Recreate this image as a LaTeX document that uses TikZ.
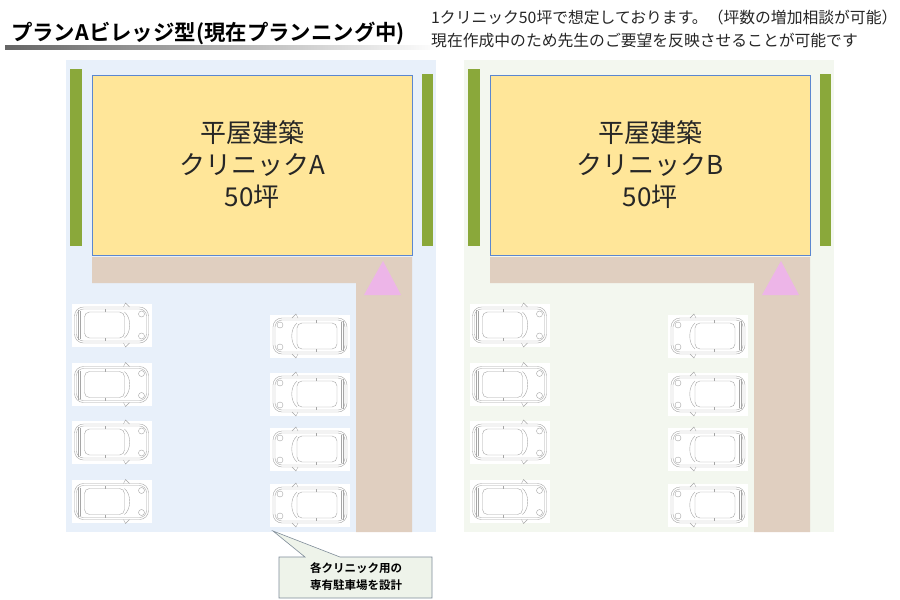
\documentclass[tikz,border=0pt]{standalone}
\usepackage{fontspec}
\newfontfamily\jpfont{Noto Sans CJK JP}[BoldFont={Noto Sans CJK JP Bold}]
\usepackage{tikz}
\usetikzlibrary{calc}
\definecolor{plotblue}{HTML}{E8F0FA}
\definecolor{plotgreen}{HTML}{F3F7EF}
\definecolor{bldgfill}{HTML}{FFE699}
\definecolor{bldgline}{HTML}{5B87D0}
\definecolor{hedgegreen}{HTML}{8AA83A}
\definecolor{roadbrown}{HTML}{E0CFC0}
\definecolor{entrypink}{HTML}{EDB5E8}
\definecolor{notefill}{HTML}{EEF3EA}
\definecolor{noteline}{HTML}{7F8C99}
\tikzstyle{hedge}=[fill=hedgegreen]
\tikzstyle{road}=[fill=roadbrown]
\tikzstyle{bldg}=[fill=bldgfill, draw=bldgline, line width=0.8pt]
\tikzstyle{entry}=[fill=entrypink]
\tikzstyle{carline}=[draw=gray!70, line width=0.4pt]
\tikzstyle{callout}=[fill=notefill, draw=noteline, line width=0.6pt]
\tikzstyle{bldglabel}=[font=\jpfont\fontsize{26}{32}\selectfont, align=center, text=black!85]
\newcommand{\parkedCar}[2]{
	\begin{scope}[shift={#1}, xscale=#2]
		\fill[white] (-40,-21.5) rectangle (40,21.5);
		\draw[carline, rounded corners=9pt] (-37,-18) rectangle (37,18);
		\draw[carline, rounded corners=7pt] (-35,-16) rectangle (35,16);
		\draw[carline, rounded corners=5pt] (-27,-13) rectangle (13,13);
		\draw[carline] (13,-13) .. controls (20,-7) and (20,7) .. (13,13);
		\draw[carline] (-31,-14) -- (-31,14);
		\draw[carline] (-33,-15) -- (-33,15);
		\draw[carline] (-6,-13) -- (-6,-16);
		\draw[carline] (-6,13) -- (-6,16);
		\draw[carline] (12,-18) -- (14,-22) -- (18,-18);
		\draw[carline] (12,18) -- (14,22) -- (18,18);
		\draw[carline] (30,-11) circle (3);
		\draw[carline] (30,11) circle (3);
	\end{scope}
}
\newcommand{\clinicPlot}[3]{
	\begin{scope}[xshift=#1pt]
		\fill[#2] (66,60) rectangle (436,532);
		\fill[hedge] (70,69) rectangle (82,246);
		\fill[hedge] (422,74) rectangle (433,246);
		\draw[bldg] (92,75) rectangle (412,255);
		\node[bldglabel] (bldg#3) at (252,165) {平屋建築\\クリニック#3\\50坪};
		\fill[road] (92,257) -- (412,257) -- (412,532) -- (356,532) -- (356,283) -- (92,283) -- cycle;
		\fill[entry] (383,261) -- (364,295) -- (401,295) -- cycle;
		\parkedCar{(111.5,325)}{1}
		\parkedCar{(111.5,384.5)}{1}
		\parkedCar{(111.5,442)}{1}
		\parkedCar{(111.5,501.5)}{1}
		\parkedCar{(310,336)}{-1}
		\parkedCar{(310,394)}{-1}
		\parkedCar{(310,449)}{-1}
		\parkedCar{(310,505)}{-1}
	\end{scope}
}

\begin{document}
\begin{tikzpicture}[x=1pt, y=-1pt]
	\useasboundingbox (0,0) rectangle (900,600);
	\fill[white] (0,0) rectangle (900,600);
	\node[anchor=west, inner sep=0, font=\jpfont\bfseries\fontsize{21.4}{24}\selectfont] (title) at (11,33) {プランAビレッジ型(現在プランニング中)};
	\shade[left color=gray!80!black, right color=white] (5,45) rectangle (440,49);
	\node[anchor=north west, inner sep=0, align=left, font=\jpfont\fontsize{15.8}{23}\selectfont, text=black!85] (note) at (431,10) {1クリニック50坪で想定しております。（坪数の増加相談が可能）\\現在作成中のため先生のご要望を反映させることが可能です};
	\clinicPlot{0}{plotblue}{A}
	\clinicPlot{398}{plotgreen}{B}
	\coordinate (calloutTip) at (273,531);
	\draw[callout] (279,557) -- (305,557) -- (calloutTip) -- (340,557) -- (432,557) -- (432,598) -- (279,598) -- cycle;
	\node[font=\jpfont\bfseries\fontsize{11.5}{17}\selectfont, align=center] (calloutText) at (356,577) {各クリニック用の\\専有駐車場を設計};
\end{tikzpicture}
\end{document}
